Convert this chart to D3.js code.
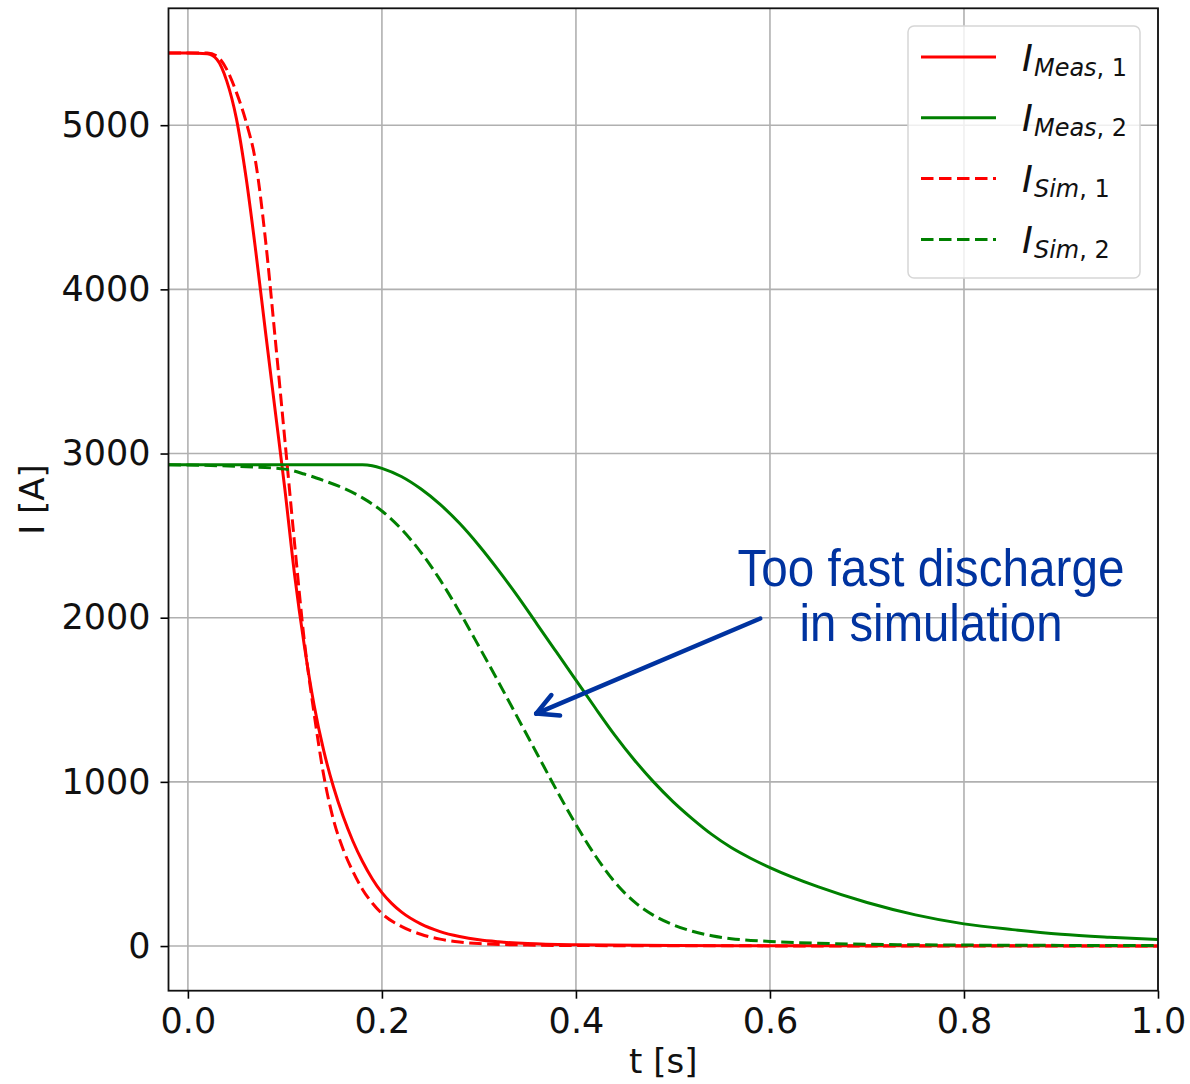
<!DOCTYPE html>
<html>
<head>
<meta charset="utf-8">
<script src="https://cdn.jsdelivr.net/npm/d3@7"></script>
<style>
    body { margin: 0; background: #fff; }
    svg { display: block; font-family: "DejaVu Sans", sans-serif; }
</style>
</head>
<body>
<div id="chart"></div>
<script>
const tMeas1 = [-0.02, 0, 0.02, 0.03, 0.04, 0.05, 0.06, 0.07, 0.08, 0.09, 0.1, 0.11, 0.12, 0.13, 0.14, 0.15, 0.16, 0.17, 0.18, 0.19, 0.2, 0.21, 0.22, 0.24, 0.26, 0.28, 0.3, 0.32, 0.35, 0.4, 0.5, 0.6, 1.0];
const iMeas1 = [5440, 5440, 5435, 5400, 5270, 5040, 4680, 4230, 3740, 3260, 2780, 2260, 1830, 1470, 1190, 970, 790, 640, 515, 410, 325, 260, 208, 135, 88, 58, 38, 26, 15, 8, 4, 2, 1];

const tSim1 = [-0.02, 0, 0.02, 0.03, 0.04, 0.05, 0.06, 0.07, 0.08, 0.09, 0.1, 0.11, 0.12, 0.13, 0.14, 0.15, 0.16, 0.17, 0.18, 0.19, 0.2, 0.22, 0.24, 0.26, 0.28, 0.3, 0.35, 0.4, 0.6, 1.0];
const iSim1 = [5440, 5440, 5440, 5420, 5340, 5200, 5020, 4770, 4300, 3700, 3080, 2450, 1860, 1420, 1040, 770, 590, 455, 345, 262, 198, 120, 72, 42, 25, 15, 6, 3, 1, 0];

const tMeas2 = [-0.02, 0, 0.1, 0.18, 0.19, 0.2, 0.22, 0.24, 0.26, 0.28, 0.3, 0.32, 0.34, 0.36, 0.38, 0.4, 0.42, 0.44, 0.46, 0.48, 0.5, 0.52, 0.54, 0.56, 0.58, 0.6, 0.65, 0.7, 0.75, 0.8, 0.85, 0.9, 0.95, 1.0];
const iMeas2 = [2932, 2932, 2932, 2932, 2926, 2910, 2860, 2785, 2690, 2575, 2440, 2290, 2130, 1960, 1790, 1620, 1450, 1285, 1135, 1000, 880, 775, 680, 600, 535, 478, 360, 265, 190, 135, 100, 72, 54, 40];

const tSim2 = [-0.02, 0, 0.05, 0.1, 0.12, 0.14, 0.16, 0.18, 0.2, 0.22, 0.24, 0.26, 0.28, 0.3, 0.32, 0.34, 0.36, 0.38, 0.4, 0.42, 0.44, 0.46, 0.48, 0.5, 0.52, 0.54, 0.56, 0.6, 0.65, 0.7, 0.8, 0.9, 1.0];
const iSim2 = [2932, 2930, 2922, 2905, 2875, 2835, 2790, 2730, 2650, 2540, 2400, 2230, 2035, 1825, 1610, 1390, 1170, 950, 740, 550, 390, 270, 187, 130, 90, 63, 45, 28, 17, 11, 6, 4, 3];

const xTicks = [0, 0.2, 0.4, 0.6, 0.8, 1.0];
const yTicks = [0, 1000, 2000, 3000, 4000, 5000];

const seriesNames = ["Meas", "Meas", "Sim", "Sim"];
const seriesIdx = ["1", "2", "1", "2"];
const seriesColors = ["#ff0000", "#008000", "#ff0000", "#008000"];
const seriesDashed = [false, false, true, true];

const annotationLines = ["Too fast discharge", "in simulation"];

const series = [
    d3.zip(tMeas1, iMeas1),
    d3.zip(tMeas2, iMeas2),
    d3.zip(tSim1, iSim1),
    d3.zip(tSim2, iSim2)
].map((pts, i) => ({
    pts: pts,
    name: seriesNames[i],
    idx: seriesIdx[i],
    color: seriesColors[i],
    dashed: seriesDashed[i]
}));

const width = 1190, height = 1084;
const margin = {top: 8.3, right: 32, bottom: 93.3, left: 168.5};
const innerW = width - margin.left - margin.right;
const innerH = height - margin.top - margin.bottom;

const svg = d3.select("#chart").append("svg")
    .attr("width", width)
    .attr("height", height);

svg.append("rect").attr("width", width).attr("height", height).attr("fill", "#fff");

const g = svg.append("g")
    .attr("transform", `translate(${margin.left},${margin.top})`);

const x = d3.scaleLinear().domain([-0.02, 1.0]).range([0, innerW]);
const y = d3.scaleLinear().domain([-272, 5712]).range([innerH, 0]);

// grid
g.append("g").selectAll("line").data(xTicks).join("line")
    .attr("x1", d => x(d)).attr("x2", d => x(d))
    .attr("y1", 0).attr("y2", innerH)
    .attr("stroke", "#b0b0b0").attr("stroke-width", 1.6);
g.append("g").selectAll("line").data(yTicks).join("line")
    .attr("y1", d => y(d)).attr("y2", d => y(d))
    .attr("x1", 0).attr("x2", innerW)
    .attr("stroke", "#b0b0b0").attr("stroke-width", 1.6);

// curves
g.append("clipPath").attr("id", "clip")
    .append("rect").attr("width", innerW).attr("height", innerH);

const line = d3.line()
    .x(d => x(d[0]))
    .y(d => y(d[1]))
    .curve(d3.curveMonotoneX);

g.append("g").attr("clip-path", "url(#clip)")
    .selectAll("path").data(series).join("path")
    .attr("d", d => line(d.pts))
    .attr("fill", "none")
    .attr("stroke", d => d.color)
    .attr("stroke-width", 3)
    .attr("stroke-dasharray", d => d.dashed ? "12.5,5.5" : null);

// axes
const xAxis = g.append("g")
    .attr("transform", `translate(0,${innerH})`)
    .call(d3.axisBottom(x).tickValues(xTicks).tickFormat(d3.format(".1f")).tickSize(8).tickSizeOuter(0));
xAxis.selectAll("text").attr("dy", null).attr("y", 42);

const yAxis = g.append("g")
    .call(d3.axisLeft(y).tickValues(yTicks).tickFormat(d3.format("d")).tickSize(8).tickPadding(10).tickSizeOuter(0));

[xAxis, yAxis].forEach(ax => {
    ax.select(".domain").remove();
    ax.selectAll("line").attr("stroke", "#000").attr("stroke-width", 1.6);
    ax.selectAll("text")
        .attr("fill", "#111")
        .style("font-size", "35px")
        .style("font-family", "'DejaVu Sans', sans-serif");
});

// frame
g.append("rect")
    .attr("width", innerW).attr("height", innerH)
    .attr("fill", "none").attr("stroke", "#111").attr("stroke-width", 1.8);

// axis titles
svg.append("text")
    .attr("x", margin.left + innerW / 2).attr("y", 1073)
    .attr("text-anchor", "middle")
    .attr("font-size", 34).attr("fill", "#111")
    .text("t [s]");

svg.append("text")
    .attr("transform", `translate(44,${margin.top + innerH / 2}) rotate(-90)`)
    .attr("text-anchor", "middle")
    .attr("font-size", 34).attr("fill", "#111")
    .text("I [A]");

// legend
const legend = g.append("g").attr("transform", `translate(${908 - margin.left},${26 - margin.top})`);
legend.append("rect")
    .attr("width", 232).attr("height", 252).attr("rx", 6)
    .attr("fill", "#fff").attr("fill-opacity", 0.8)
    .attr("stroke", "#d6d6d6").attr("stroke-width", 1.5);

const rows = legend.selectAll("g.row").data(series).join("g")
    .attr("class", "row")
    .attr("transform", (d, i) => `translate(0,${31 + i * 60.8})`);

rows.append("line")
    .attr("x1", 13).attr("x2", 88)
    .attr("stroke", d => d.color)
    .attr("stroke-width", 3)
    .attr("stroke-dasharray", d => d.dashed ? "12.5,5.5" : null);

const lbl = rows.append("text")
    .attr("x", 114).attr("y", 13.5)
    .attr("fill", "#111")
    .attr("font-size", 37);
lbl.append("tspan").attr("font-style", "italic").text("I");
lbl.append("tspan").attr("font-style", "italic").attr("font-size", 24).attr("dy", 5).attr("dx", 1).text(d => d.name);
lbl.append("tspan").attr("font-size", 24).text(d => ", " + d.idx);

// annotation
const blue = "#0033a0";
const tip = [0.359, 1416], tail = [0.59, 1995];
const tx = x(tip[0]), ty = y(tip[1]), sx = x(tail[0]), sy = y(tail[1]);
g.append("line")
    .attr("x1", sx).attr("y1", sy).attr("x2", tx).attr("y2", ty)
    .attr("stroke", blue).attr("stroke-width", 4.5).attr("stroke-linecap", "round");
const ang = Math.atan2(ty - sy, tx - sx);
const headLen = 24, spread = Math.PI / 6.5;
[-1, 1].forEach(s => {
    g.append("line")
        .attr("x1", tx).attr("y1", ty)
        .attr("x2", tx - headLen * Math.cos(ang + s * spread))
        .attr("y2", ty - headLen * Math.sin(ang + s * spread))
        .attr("stroke", blue).attr("stroke-width", 4.5).attr("stroke-linecap", "round");
});

const annX = x(0.766);
g.selectAll("text.ann").data(annotationLines).join("text")
    .attr("class", "ann")
    .attr("x", annX)
    .attr("y", (d, i) => y(2196) + i * 55)
    .attr("text-anchor", "middle")
    .attr("fill", blue)
    .attr("font-family", "'Liberation Sans', Arial, sans-serif")
    .attr("font-size", 51)
    .attr("textLength", (d, i) => i === 0 ? 387 : 263)
    .attr("lengthAdjust", "spacingAndGlyphs")
    .text(d => d);
</script>
</body>
</html>
